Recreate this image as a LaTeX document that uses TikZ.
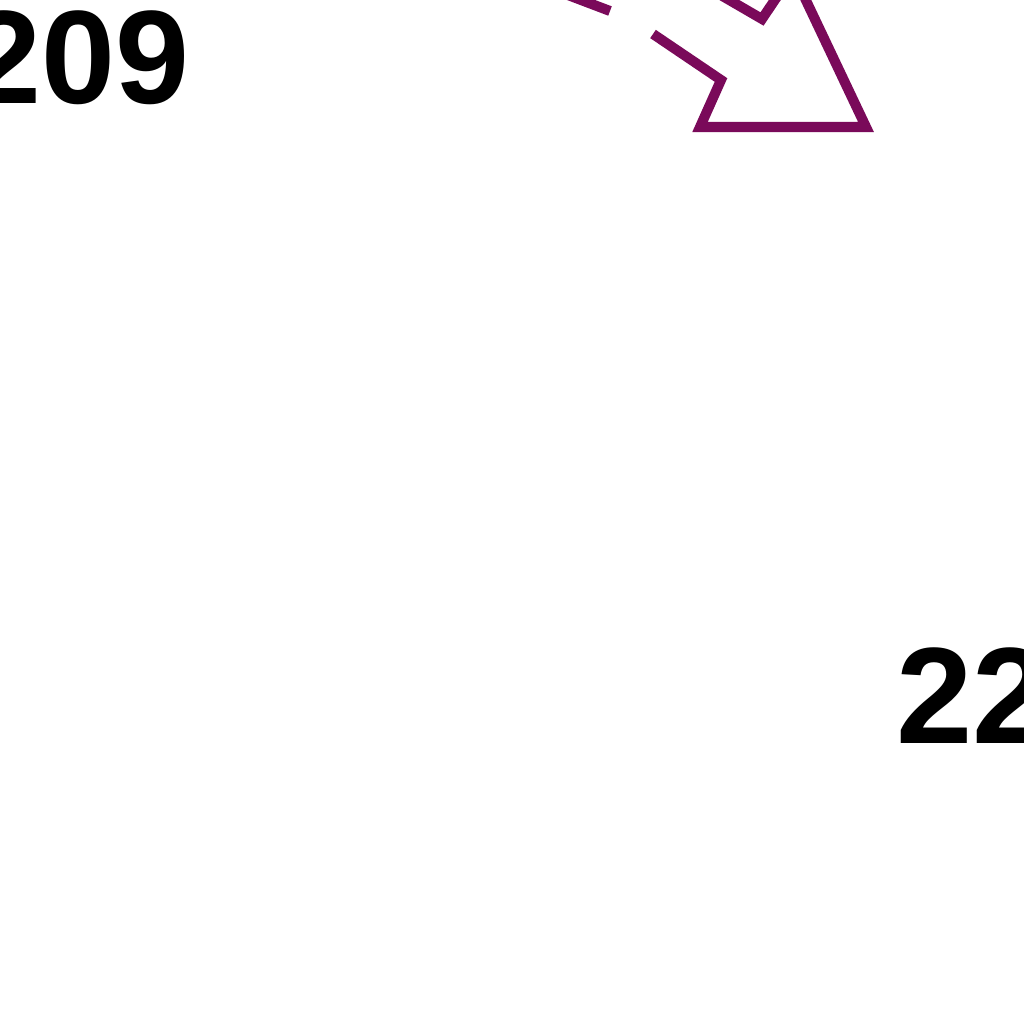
\documentclass[tikz,border=0pt]{standalone}
\usepackage{fontspec}
\setmainfont{Liberation Sans}
\definecolor{arrowpurple}{RGB}{122,10,90}
\begin{document}
\begin{tikzpicture}[x=0.01cm,y=-0.01cm,
  outline/.style={draw=arrowpurple, line width=0.10cm, line join=miter},
  lblA/.style={font=\bfseries\fontsize{37.8}{38}\selectfont, inner sep=0pt, text=black},
  lblB/.style={font=\bfseries\fontsize{39}{39}\selectfont, inner sep=0pt, text=black}]
\useasboundingbox (0,0) rectangle (1024,1024);
\fill[white] (0,0) rectangle (1024,1024);
\clip (0,0) rectangle (1024,1024);
% labels
\node[lblA, anchor=base east] (n209) at (190,103) {209};
\node[lblB, anchor=base west] (n22) at (896,743) {22};
% hollow arrow outline
\coordinate (s1) at (700,-17);
\coordinate (j2) at (762,19);
\coordinate (b1) at (793,-27);
\coordinate (tip) at (866,127);
\coordinate (b2) at (700,127);
\coordinate (j1) at (721,80);
\coordinate (e1) at (653,34);
\coordinate (e0) at (560,-8);
\coordinate (e0b) at (610,11);
\draw[outline] (s1) -- (j2) -- (b1) -- (tip) -- (b2) -- (j1) -- (e1);
\draw[outline] (e0) -- (e0b);
\end{tikzpicture}
\end{document}
